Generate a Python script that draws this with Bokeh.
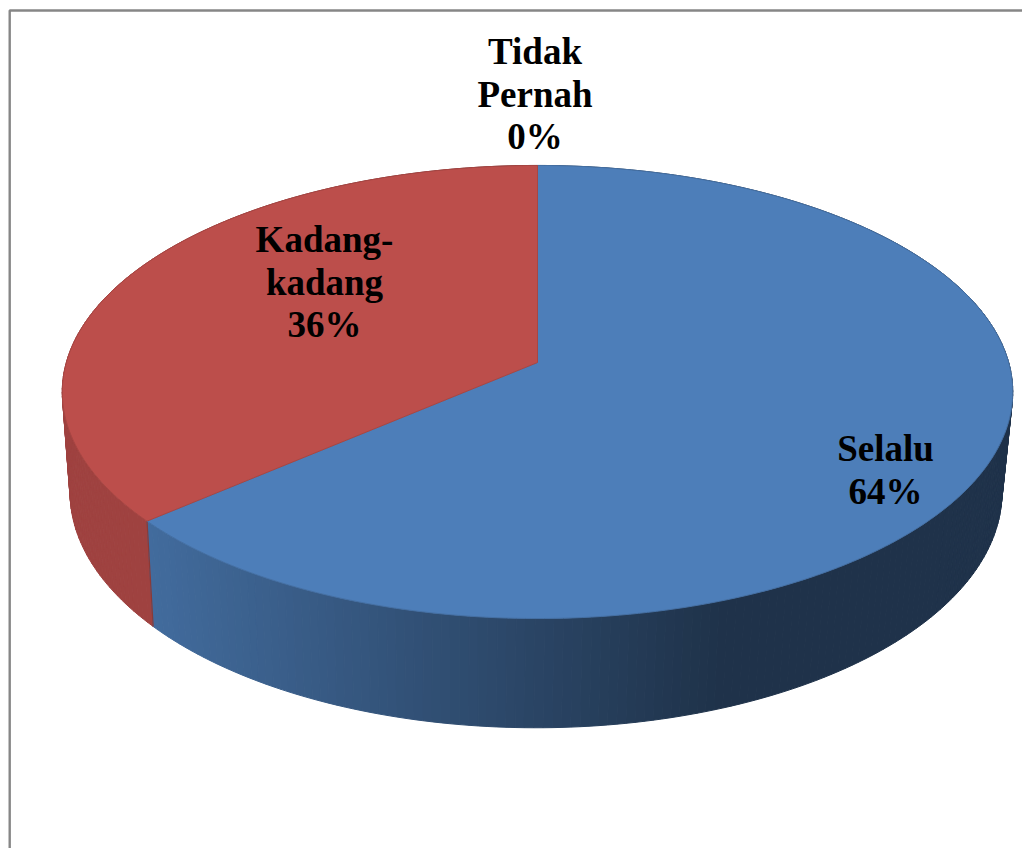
import math
from bokeh.plotting import figure
from bokeh.embed import file_html
from bokeh.resources import INLINE
from bokeh.core.properties import value

# ---- data ----
categories = ["Selalu", "Kadang-\nkadang", "Tidak\nPernah"]
shares = [63.7, 36.3, 0.0]
base_colors = [(79, 129, 189), (192, 80, 77), (155, 187, 89)]

# ---- layout (picture pixels) ----
W, H = 1022, 848
K = 0.1302
TOP = dict(cx=537.0, cy=362.0, a=471.2, b=222.7)
LOW = dict(cx=535.5, cy=461.0, a=462.0, b=231.6)
LABEL_CENTERS = [(885, 469.5), (324, 281.5), (534.5, 93.5)]
LINE_GAP = 42.5
STEP = 1.0


def proj(t, g):
    """Clockwise angle from 12 o'clock on a unit disc -> pixels (perspective)."""
    X, Y = math.sin(t), math.cos(t)
    w = 1 + K * Y
    return g["cx"] + g["a"] * X / w, g["cy"] - g["b"] * Y / w


def hexc(rgb, f=1.0):
    return "#%02x%02x%02x" % tuple(min(255, int(round(c * f))) for c in rgb)


def shade(x):
    u = min(1.0, max(0.0, (x - 150.0) / (720.0 - 150.0)))
    return 0.83 - u * (0.83 - 0.39)


p = figure(width=W, height=H, x_range=(0, W), y_range=(H, 0),
           toolbar_location=None, output_backend="svg", min_border=0,
           outline_line_color=None, background_fill_color="white",
           border_fill_color="white")
p.axis.visible = False
p.grid.visible = False

# chart frame (open at bottom and right, as in the source crop)
p.line([9.2, 9.2, W], [H, 10, 10], line_color="#868686", line_width=2.4)

# slice extents from the values
total = sum(shares)
slices = []
acc = 0.0
for s, c in zip(shares, base_colors):
    a0 = acc / total * 2 * math.pi
    acc += s
    a1 = acc / total * 2 * math.pi
    slices.append((a0, a1, c))

# walls, back to front
quads = []
for a0, a1, c in slices:
    n = int(math.degrees(a1 - a0) / STEP)
    for i in range(n):
        t0 = a0 + (a1 - a0) * i / n
        t1 = a0 + (a1 - a0) * (i + 1) / n
        x0, y0 = proj(t0, TOP)
        x1, y1 = proj(t1, TOP)
        x2, y2 = proj(t1, LOW)
        x3, y3 = proj(t0, LOW)
        col = hexc(c, shade((x0 + x1) / 2))
        quads.append((math.cos((t0 + t1) / 2), [x0, x1, x2, x3], [y0, y1, y2, y3], col))
quads.sort(key=lambda q: -q[0])
p.patches([q[1] for q in quads], [q[2] for q in quads],
          fill_color=[q[3] for q in quads], line_color=[q[3] for q in quads], line_width=1)

# wall seams where slices meet on the front
for idx, (a0, a1, c) in enumerate(slices):
    if a1 > a0 and math.cos(a1) < 0:
        xa, ya = proj(a1, TOP)
        xb, yb = proj(a1, LOW)
        next_c = slices[(idx + 1) % len(slices)][2]
        p.line([xa, xb], [ya, yb], line_color=hexc(next_c, 0.72), line_width=1.2)

# top faces
for a0, a1, c in slices:
    if a1 <= a0:
        continue
    n = max(2, int(math.degrees(a1 - a0) / STEP))
    pts = [proj(a0 + (a1 - a0) * i / n, TOP) for i in range(n + 1)]
    xs = [TOP["cx"]] + [q[0] for q in pts]
    ys = [TOP["cy"]] + [q[1] for q in pts]
    p.patch(xs, ys, fill_color=hexc(c, 0.98), line_color=hexc(c, 0.87), line_width=1)

# labels
for cat, s, (lx, ly) in zip(categories, shares, LABEL_CENTERS):
    lines = cat.split("\n") + ["%d%%" % round(s)]
    for i, txt in enumerate(lines):
        yy = ly + (i - (len(lines) - 1) / 2) * LINE_GAP
        p.text([lx], [yy], text=[txt], text_font=value("Liberation Serif"),
               text_font_style="bold", text_font_size="37px", text_color="black",
               text_align="center", text_baseline="middle")

open("out.html", "w").write(file_html(p, INLINE))
